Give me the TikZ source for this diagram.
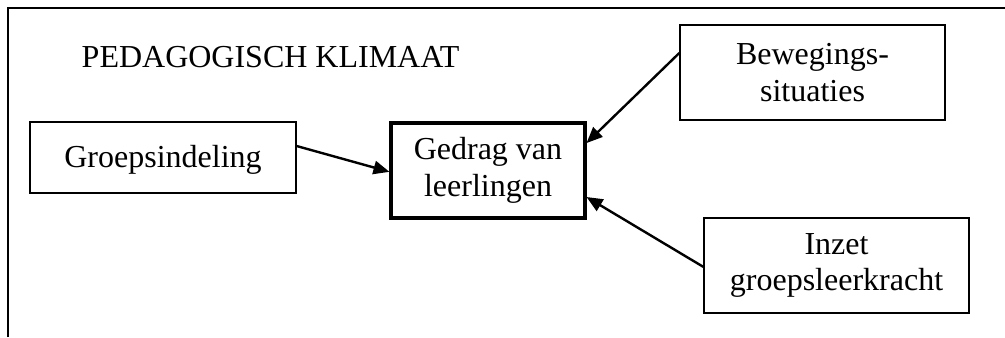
\documentclass[tikz,border=0pt]{standalone}
\usepackage{fontspec}
\setmainfont{Liberation Serif}
\usetikzlibrary{arrows.meta}
\begin{document}
\begin{tikzpicture}[x=0.75pt,y=-0.75pt,
  every node/.style={font=\fontsize{24}{27.6}\selectfont},
  box/.style={draw,line width=1.1pt,rectangle,align=center,inner sep=0pt},
  mainbox/.style={box,line width=2.3pt},
  link/.style={line width=1.8pt,-{Triangle[length=12pt,width=10pt]}}]
\useasboundingbox (0,0) rectangle (1005,337);
% open frame: left and top sides only
\draw[line width=1.6pt] (8,337) -- (8,8) -- (1005,8);
\node[anchor=base west] (title) at (77,67) {PEDAGOGISCH KLIMAAT};
\node[box,minimum width=199.5pt,minimum height=53.25pt,text depth=1pt] (g) at (163,157.5) {Groepsindeling};
\node[mainbox,minimum width=145.5pt,minimum height=71.25pt] (c) at (488,170.5) {Gedrag van\\leerlingen};
\node[box,minimum width=198.75pt,minimum height=71.25pt] (b) at (812.5,72.5) {Bewegings-\\situaties};
\node[box,minimum width=198.75pt,minimum height=71.25pt] (i) at (836.5,265.5) {Inzet\\groepsleerkracht};
\draw[link] ([yshift=8.6pt]g.east) -- ([yshift=-1pt]c.west);
\draw[link] ([yshift=14.6pt]b.west) -- ([yshift=20.6pt]c.east);
\draw[link] ([yshift=-1pt]i.west) -- ([yshift=-19.9pt]c.east);
\end{tikzpicture}
\end{document}
